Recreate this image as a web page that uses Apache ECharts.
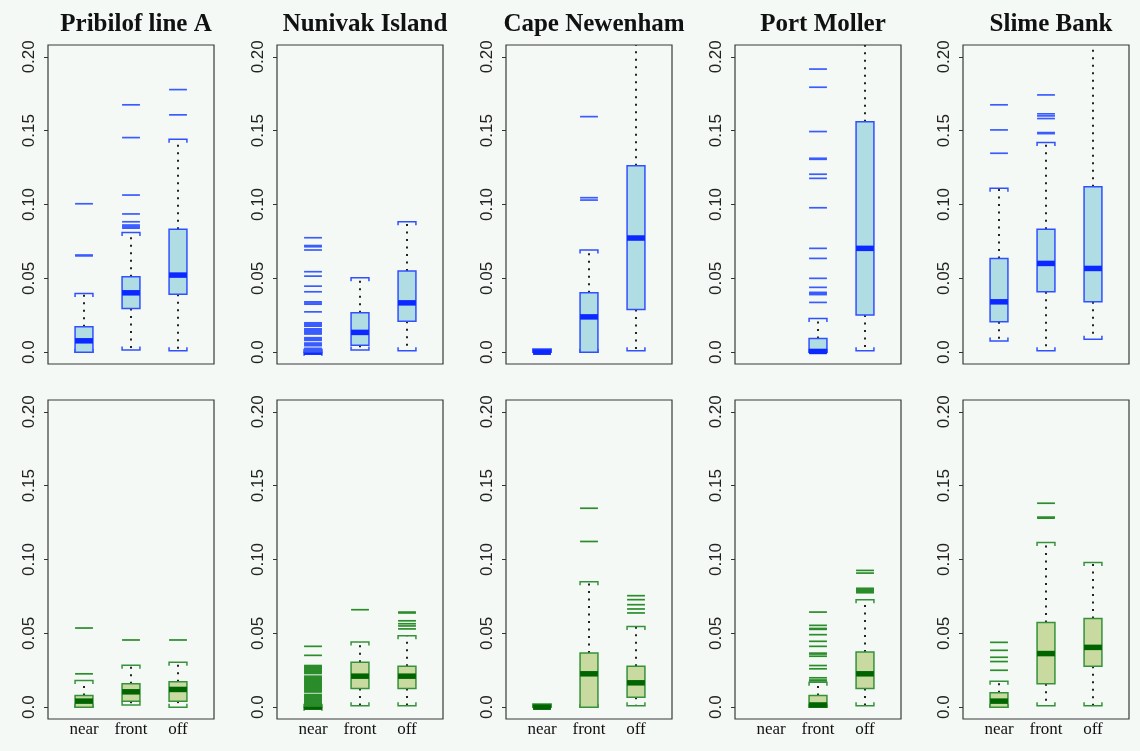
<!DOCTYPE html>
<html>
<head>
<meta charset="utf-8">
<script src="https://cdn.jsdelivr.net/npm/echarts@6/dist/echarts.min.js"></script>
<style>
html,body{margin:0;padding:0;background:#f5f9f6;}
#chart{width:1140px;height:751px;}
</style>
</head>
<body>
<div id="chart"></div>
<script>
// ---- data ----
const regions = ['Pribilof line A', 'Nunivak Island', 'Cape Newenham', 'Port Moller', 'Slime Bank'];
const categories = ['near', 'front', 'off'];
const yTicks = [0, 0.05, 0.10, 0.15, 0.20];
const yTickLabels = ['0.0', '0.05', '0.10', '0.15', '0.20'];

// boxes: [lowerWhisker, q1, median, q3, upperWhisker] per category (near, front, off)
// top row (blue)
const pribilofTopBoxes = [[0, 0, 0.0077, 0.0172, 0.0398], [0.0014, 0.0296, 0.0402, 0.051, 0.0811], [0.0009, 0.0393, 0.0522, 0.0832, 0.1442]];
const pribilofTopOutliers = [[0.0652, 0.0658, 0.1005], [0.0840, 0.0847, 0.0854, 0.0861, 0.0883, 0.0936, 0.1064, 0.1453, 0.1675], [0.1607, 0.1778]];
const nunivakTopBoxes = [[0, 0, 0, 0, 0], [0.0014, 0.0047, 0.0134, 0.0267, 0.0504], [0.001, 0.021, 0.0334, 0.0549, 0.0884]];
const nunivakTopOutliers = [[0.0775, 0.0722, 0.0714, 0.0692, 0.0545, 0.0515, 0.0447, 0.0409, 0.0341, 0.0333, 0.0325, 0.0273,
  0.0199, 0.0193, 0.0187, 0.0181, 0.0176, 0.0158, 0.0152, 0.0146, 0.014, 0.0134, 0.0128, 0.0123, 0.0098, 0.0092, 0.0086, 0.008,
  0.0062, 0.0056, 0.005, 0.0044, 0.0026, 0.002, 0.0014, 0.0008, 0.0003], [], []];
const capeTopBoxes = [[0, 0, 0, 0.002, 0.002], [0, 0, 0.0239, 0.0402, 0.0692], [0.001, 0.0289, 0.0773, 0.1263, 0.32]];
const capeTopOutliers = [[], [0.103, 0.1046, 0.1595], []];
const portTopBoxes = [null, [0, 0, 0.0005, 0.0093, 0.0228], [0.001, 0.0251, 0.0703, 0.1561, 0.30]];
const portTopOutliers = [[], [0.0337, 0.039, 0.0396, 0.0405, 0.0439, 0.05, 0.0635, 0.0703, 0.0978, 0.1177, 0.1205, 0.1306, 0.1313, 0.1494, 0.1794, 0.1917], []];
const slimeTopBoxes = [[0.0075, 0.0206, 0.0341, 0.0635, 0.111], [0.001, 0.0409, 0.0601, 0.0832, 0.1419], [0.0088, 0.0341, 0.0567, 0.1121, 0.30]];
const slimeTopOutliers = [[0.1347, 0.1505, 0.1675], [0.148, 0.1487, 0.1582, 0.16, 0.1614, 0.1742], []];

// bottom row (green)
const pribilofBotBoxes = [[0, 0, 0.0041, 0.0079, 0.018], [0.0014, 0.0041, 0.0104, 0.0158, 0.0284], [0, 0.0041, 0.012, 0.0172, 0.0304]];
const pribilofBotOutliers = [[0.0226, 0.0536], [0.0455], [0.0455]];
const nunivakBotBoxes = [[0, 0, 0, 0, 0], [0.001, 0.0126, 0.021, 0.0304, 0.0442], [0.001, 0.0126, 0.021, 0.0277, 0.0484]];
const nunivakBotOutliers = [[0.0412, 0.0351, 0.0282, 0.0276, 0.027, 0.0264, 0.0258, 0.0252, 0.0246, 0.024, 0.0234, 0.0228, 0.021,
  0.0204, 0.0198, 0.0192, 0.0186, 0.018, 0.0174, 0.0168, 0.0162, 0.0156, 0.015, 0.0144, 0.0138, 0.0132, 0.0126, 0.012, 0.0114,
  0.0108, 0.0103, 0.0086, 0.008, 0.0074, 0.0068, 0.0062, 0.0056, 0.005, 0.0044, 0.0038, 0.0032, 0.0026, 0.002, 0.0014, 0.0008],
  [0.066], [0.053, 0.055, 0.0565, 0.0585, 0.0638, 0.0644]];
const capeBotBoxes = [[0, 0, 0, 0.002, 0.002], [0, 0, 0.0226, 0.0367, 0.0849], [0.001, 0.0068, 0.0165, 0.0277, 0.0547]];
const capeBotOutliers = [[], [0.1122, 0.1347], [0.0638, 0.0665, 0.0694, 0.0728, 0.0755]];
const portBotBoxes = [null, [0, 0, 0.0015, 0.0079, 0.0169], [0.001, 0.0126, 0.0226, 0.0374, 0.0728]];
const portBotOutliers = [[], [0.0178, 0.0184, 0.0199, 0.026, 0.0282, 0.0345, 0.036, 0.0366, 0.0412, 0.0446, 0.0491, 0.0527, 0.0533, 0.0554, 0.0644],
  [0.0775, 0.0781, 0.0787, 0.0793, 0.0799, 0.0805, 0.0908, 0.0926]];
const slimeBotBoxes = [[0, 0, 0.0041, 0.0097, 0.0176], [0.001, 0.0158, 0.0363, 0.0574, 0.1115], [0.001, 0.0277, 0.0405, 0.0601, 0.098]];
const slimeBotOutliers = [[0.025, 0.0309, 0.0338, 0.0385, 0.0439], [0.128, 0.1287, 0.1381], []];

// ---- layout / style ----
const topBoxes = [pribilofTopBoxes, nunivakTopBoxes, capeTopBoxes, portTopBoxes, slimeTopBoxes];
const topOutliers = [pribilofTopOutliers, nunivakTopOutliers, capeTopOutliers, portTopOutliers, slimeTopOutliers];
const botBoxes = [pribilofBotBoxes, nunivakBotBoxes, capeBotBoxes, portBotBoxes, slimeBotBoxes];
const botOutliers = [pribilofBotOutliers, nunivakBotOutliers, capeBotOutliers, portBotOutliers, slimeBotOutliers];

const gridLefts = [48, 277, 506, 735, 963];
const gridW = 166;
const rowTops = [45, 400];
const gridH = 319;
const BOX_W = 0.38;

const styles = [
  { fill: '#b0dde3', stroke: '#3050ff', median: '#0a28ff', out: '#3a5cff' },
  { fill: '#c8daa0', stroke: '#35923a', median: '#006400', out: '#2a8c2a' }
];

const grids = [], xAxes = [], yAxes = [], series = [], titles = [];
let gi = 0;
[0, 1].forEach(row => {
  for (let c = 0; c < 5; c++) {
    const boxes = row === 0 ? topBoxes[c] : botBoxes[c];
    const outs = row === 0 ? topOutliers[c] : botOutliers[c];
    const st = styles[row];
    grids.push({ left: gridLefts[c], top: rowTops[row], width: gridW, height: gridH, show: true,
      borderColor: '#3a3a3a', borderWidth: 1.2, backgroundColor: 'transparent', containLabel: false });
    xAxes.push({ gridIndex: gi, type: 'value', min: 0.234, max: 3.766,
      axisLine: { show: false }, axisTick: { show: false }, splitLine: { show: false },
      axisLabel: row === 1 ? { show: true, customValues: [1, 2, 3], formatter: v => categories[Math.round(v) - 1],
        fontFamily: 'Liberation Serif, serif', fontSize: 17, color: '#111', margin: 2 } : { show: false } });
    yAxes.push({ gridIndex: gi, type: 'value', min: -0.008, max: 0.208,
      axisLine: { show: false }, splitLine: { show: false },
      axisTick: { show: true, customValues: yTicks, length: 4, lineStyle: { color: '#333', width: 1 } },
      axisLabel: { show: true, customValues: yTicks, rotate: 90, margin: 10,
        formatter: v => yTickLabels[yTicks.findIndex(t => Math.abs(t - v) < 1e-6)],
        fontFamily: 'Liberation Sans Narrow, Liberation Sans, sans-serif', fontSize: 17, color: '#222' } });
    if (row === 0) {
      titles.push({ text: regions[c], left: gridLefts[c] + gridW / 2, top: 7, textAlign: 'center',
        textStyle: { fontFamily: 'Liberation Serif, serif', fontWeight: 'bold', fontSize: 25, color: '#111' } });
    }
    const boxData = [];
    boxes.forEach((b, i) => { if (b) boxData.push([i + 1].concat(b)); });
    series.push({
      type: 'custom', xAxisIndex: gi, yAxisIndex: gi, clip: true, data: boxData,
      renderItem: (params, api) => {
        const x = api.value(0);
        const lo = api.coord([x, api.value(1)]), q1 = api.coord([x, api.value(2)]),
          md = api.coord([x, api.value(3)]), q3 = api.coord([x, api.value(4)]), hi = api.coord([x, api.value(5)]);
        const w = api.size([BOX_W, 0])[0], h = w / 2, cx = lo[0];
        const dot = { stroke: '#222', lineWidth: 2, lineDash: [2, 5.5] };
        const capSt = { stroke: st.stroke, lineWidth: 1.5, fill: null };
        return { type: 'group', children: [
          { type: 'line', shape: { x1: cx, y1: q3[1], x2: cx, y2: hi[1] }, style: dot },
          { type: 'line', shape: { x1: cx, y1: q1[1], x2: cx, y2: lo[1] }, style: dot },
          { type: 'polyline', shape: { points: [[cx - h, hi[1] + 3.5], [cx - h, hi[1]], [cx + h, hi[1]], [cx + h, hi[1] + 3.5]] }, style: capSt },
          { type: 'polyline', shape: { points: [[cx - h, lo[1] - 3.5], [cx - h, lo[1]], [cx + h, lo[1]], [cx + h, lo[1] - 3.5]] }, style: capSt },
          { type: 'rect', shape: { x: cx - h, y: q3[1], width: w, height: q1[1] - q3[1] }, style: { fill: st.fill, stroke: st.stroke, lineWidth: 1.5 } },
          { type: 'line', shape: { x1: cx - h, y1: md[1], x2: cx + h, y2: md[1] }, style: { stroke: st.median, lineWidth: 5.5 } }
        ] };
      }
    });
    const outData = [];
    outs.forEach((arr, i) => arr.forEach(v => outData.push([i + 1, v])));
    series.push({
      type: 'custom', xAxisIndex: gi, yAxisIndex: gi, clip: true, data: outData,
      renderItem: (params, api) => {
        const p = api.coord([api.value(0), api.value(1)]);
        const h = api.size([BOX_W, 0])[0] / 2;
        return { type: 'line', shape: { x1: p[0] - h, y1: p[1], x2: p[0] + h, y2: p[1] }, style: { stroke: st.out, lineWidth: 1.7 } };
      }
    });
    gi++;
  }
});

const chart = echarts.init(document.getElementById('chart'), null, { renderer: 'canvas' });
chart.setOption({
  backgroundColor: '#f5f9f6',
  animation: false,
  title: titles,
  grid: grids,
  xAxis: xAxes,
  yAxis: yAxes,
  series: series
});
</script>
</body>
</html>
